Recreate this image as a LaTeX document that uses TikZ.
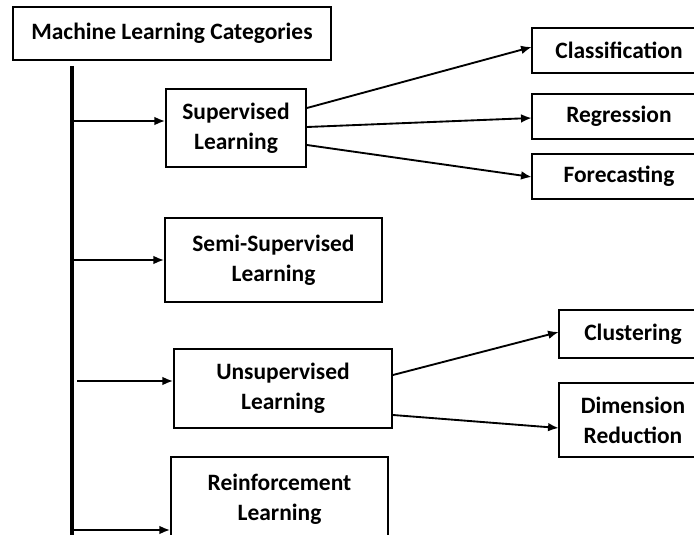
\documentclass[tikz,border=0pt]{standalone}
\usepackage{fontspec}
\setmainfont{Carlito}
\usetikzlibrary{arrows.meta}
\begin{document}
\begin{tikzpicture}[x=0.75pt,y=-0.75pt,
  boxtext/.style={inner sep=0pt,align=center,
    font=\fontsize{17.6}{22.5}\selectfont\bfseries},
  box/.style={boxtext,draw,line width=1.4pt},
  openbox/.style={line width=1.4pt},
  conn/.style={line width=1.4pt,-{Latex[length=8pt,width=6.5pt]}}]
\useasboundingbox (0,0) rectangle (694,535);
\clip (0,0) rectangle (694,535);
\fill[white] (0,0) rectangle (694,535);
\node[box,minimum width=318*0.75pt,minimum height=53*0.75pt] (title) at (172,33.5) {Machine Learning Categories};
\node[box,minimum width=140*0.75pt,minimum height=78*0.75pt] (sup) at (236,128) {Supervised\\Learning};
\node[boxtext,minimum width=174*0.75pt,minimum height=45*0.75pt] (cls) at (619,50.5) {Classification};
\node[boxtext,minimum width=174*0.75pt,minimum height=45*0.75pt] (reg) at (619,116.5) {Regression};
\node[boxtext,minimum width=174*0.75pt,minimum height=45*0.75pt] (fore) at (619,176.5) {Forecasting};
\node[box,minimum width=217*0.75pt,minimum height=84*0.75pt] (semi) at (273.5,260) {Semi-Supervised\\Learning};
\node[box,minimum width=218*0.75pt,minimum height=79*0.75pt] (uns) at (283,388.5) {Unsupervised\\Learning};
\node[boxtext,minimum width=148*0.75pt,minimum height=48*0.75pt] (clu) at (633,334) {Clustering};
\node[boxtext,minimum width=148*0.75pt,minimum height=74*0.75pt] (dim) at (633,420) {Dimension\\Reduction};
\node[box,minimum width=217*0.75pt,minimum height=84*0.75pt] (rein) at (279.5,499) {Reinforcement\\Learning};
% borders of the boxes cut by the right edge
\foreach \n in {cls,reg,fore,clu,dim}
  \draw[openbox] (\n.north east) -- (\n.north west) -- (\n.south west) -- (\n.south east);
% trunk
\coordinate (ttop) at (72,66);
\coordinate (tbot) at (72,540);
\draw[line width=2.4pt] (ttop) -- (tbot);
\coordinate (a1) at (72,121);
\coordinate (a2) at (72,260);
\coordinate (a3) at (77,381);
\coordinate (a4) at (72,530);
\draw[conn] (a1) -- (sup.west |- a1);
\draw[conn] (a2) -- (semi.west |- a2);
\draw[conn] (a3) -- (uns.west |- a3);
\draw[conn] (a4) -- (rein.west |- a4);
% supervised branches
\draw[conn] (sup.east |- 0,108) -- (cls.west |- 0,47);
\draw[conn] (sup.east |- 0,127) -- (reg.west |- 0,118);
\draw[conn] (sup.east |- 0,145) -- (fore.west |- 0,177);
% unsupervised branches
\draw[conn] (uns.east |- 0,375) -- (clu.west |- 0,332);
\draw[conn] (uns.east |- 0,415) -- (dim.west |- 0,428);
\end{tikzpicture}
\end{document}
